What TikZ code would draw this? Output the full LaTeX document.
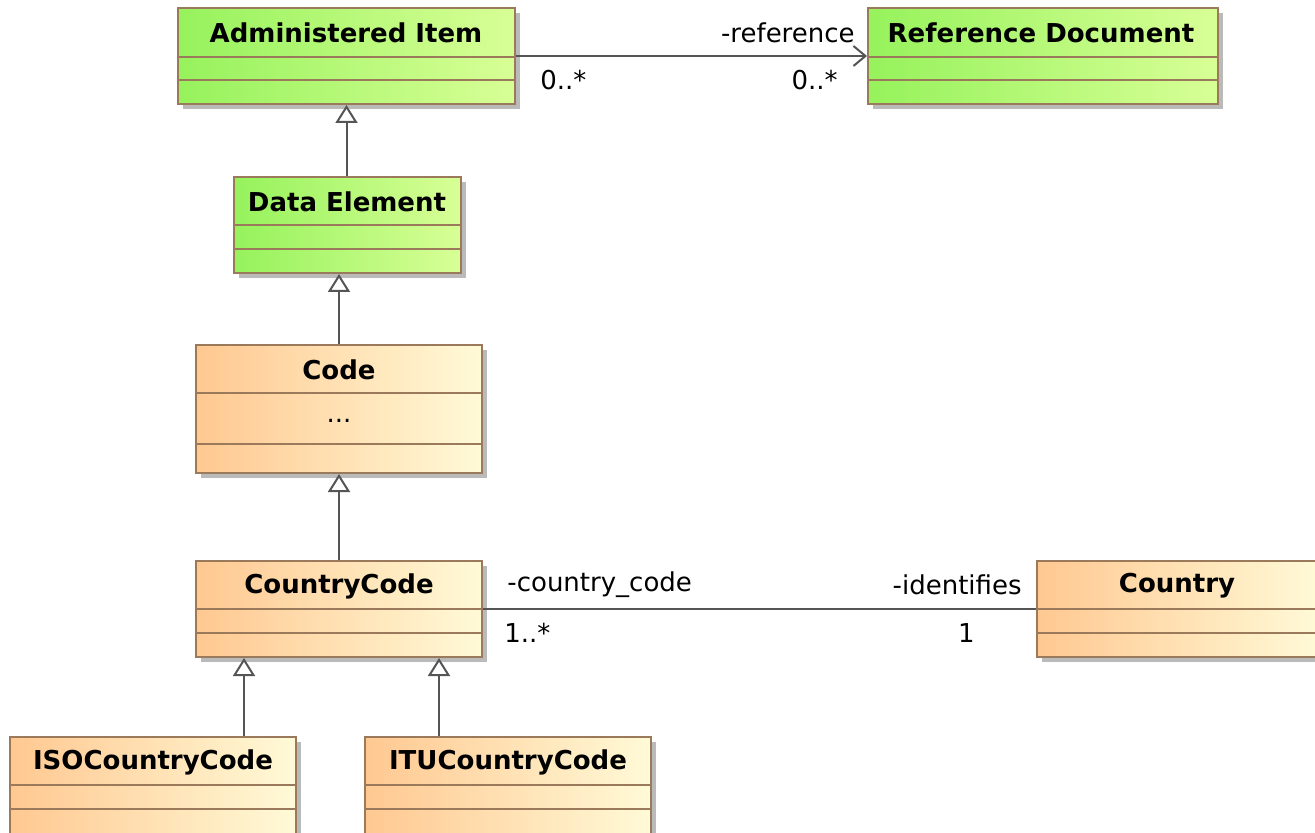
\documentclass[tikz,border=0pt]{standalone}
\usepackage{fontspec}
\setmainfont{DejaVu Sans}
\usetikzlibrary{arrows.meta,fit,shadows}
\definecolor{greenL}{RGB}{150,242,92}
\definecolor{greenR}{RGB}{216,255,150}
\definecolor{orangeL}{RGB}{255,200,145}
\definecolor{orangeR}{RGB}{255,250,215}
\definecolor{boxline}{RGB}{155,122,92}
\definecolor{linegray}{RGB}{85,85,85}
\tikzset{
	classbox/.style={draw=boxline, line width=1pt, inner sep=0pt,
		drop shadow={shadow xshift=2.5pt, shadow yshift=-2.5pt, fill=black!45, opacity=.6}},
	greenclass/.style={classbox, left color=greenL, right color=greenR},
	orangeclass/.style={classbox, left color=orangeL, right color=orangeR},
	classline/.style={draw=boxline, line width=1pt},
	classtitle/.style={font=\bfseries\fontsize{13}{15}\selectfont},
	assoclabel/.style={font=\fontsize{13}{15}\selectfont, inner sep=0pt},
	gen/.style={draw=linegray, line width=1pt, -{Triangle[open, fill=white, width=11pt, length=9pt]}},
	assoc/.style={draw=linegray, line width=1pt},
}
\begin{document}
\begin{tikzpicture}[x=0.5pt, y=-0.5pt]
	\useasboundingbox (0,0) rectangle (1315,833);
	\clip (0,0) rectangle (1315,833);
	% green classes
	\node[greenclass, fit={(178,8) (515,104)}] (ai) {};
	\draw[classline] (178,57) -- (515,57) (178,80) -- (515,80);
	\node[classtitle] at (346,33) {Administered Item};
	\node[greenclass, fit={(868,8) (1218,104)}] (rd) {};
	\draw[classline] (868,57) -- (1218,57) (868,80) -- (1218,80);
	\node[classtitle] at (1041,33) {Reference Document};
	\node[greenclass, fit={(234,177) (461,273)}] (de) {};
	\draw[classline] (234,225) -- (461,225) (234,249) -- (461,249);
	\node[classtitle] at (347,202) {Data Element};
	% orange classes
	\node[orangeclass, fit={(196,345) (482,473)}] (code) {};
	\draw[classline] (196,393) -- (482,393) (196,444) -- (482,444);
	\node[classtitle] at (339,370) {Code};
	\node[assoclabel] at (339,421) {...};
	\node[orangeclass, fit={(196,561) (482,657)}] (cc) {};
	\draw[classline] (196,609) -- (482,609) (196,633) -- (482,633);
	\node[classtitle] at (339,586) {CountryCode};
	\node[orangeclass, fit={(1037,561) (1320,657)}] (country) {};
	\draw[classline] (1037,609) -- (1320,609) (1037,633) -- (1320,633);
	\node[classtitle] at (1177,586) {Country};
	\node[orangeclass, fit={(10,737) (296,840)}] (iso) {};
	\draw[classline] (10,785) -- (296,785) (10,809) -- (296,809);
	\node[classtitle] at (153,762) {ISOCountryCode};
	\node[orangeclass, fit={(365,737) (651,840)}] (itu) {};
	\draw[classline] (365,785) -- (651,785) (365,809) -- (651,809);
	\node[classtitle] at (508,762) {ITUCountryCode};
	% generalizations
	\draw[gen] (de.north -| ai.south) -- (ai.south);
	\draw[gen] (code.north) -- (code.north |- de.south);
	\draw[gen] (cc.north) -- (code.south);
	\coordinate (isogen) at ([xshift=45.5pt]iso.north);
	\coordinate (itugen) at ([xshift=-34.5pt]itu.north);
	\draw[gen] (isogen) -- (isogen |- cc.south);
	\draw[gen] (itugen) -- (itugen |- cc.south);
	% associations
	\draw[assoc, -{Straight Barb[length=6pt, width=10pt]}] (ai.east) -- (rd.west);
	\node[assoclabel, anchor=east] at (855,33) {-reference};
	\node[assoclabel, anchor=west] at (540,80) {0..*};
	\node[assoclabel, anchor=east] at (838,80) {0..*};
	\draw[assoc] (cc.east) -- (country.west);
	\node[assoclabel, anchor=west] at (507,585) {-country\_code};
	\node[assoclabel, anchor=east] at (1022,585) {-identifies};
	\node[assoclabel, anchor=west] at (504,633) {1..*};
	\node[assoclabel, anchor=east] at (975,633) {1};
\end{tikzpicture}
\end{document}
